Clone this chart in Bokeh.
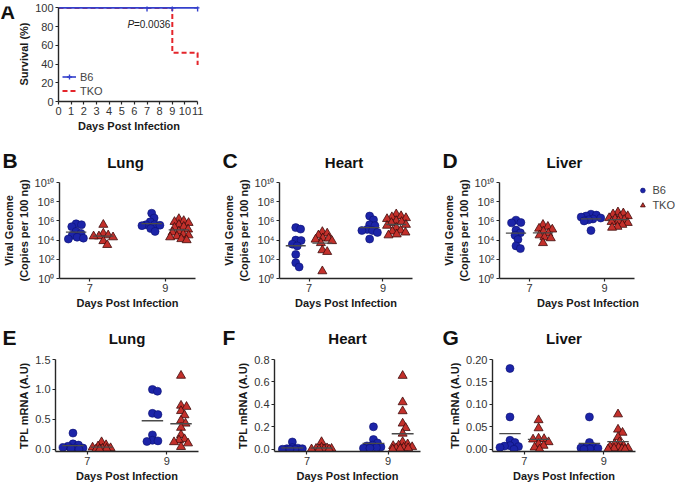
import numpy as np
from bokeh.plotting import figure
from bokeh.layouts import column, row
from bokeh.core.properties import value
from bokeh.models import (Range1d, FixedTicker, CustomJSTickFormatter, Label, Legend,
                          LegendItem, NumeralTickFormatter)
from bokeh.embed import file_html
from bokeh.resources import INLINE

FONT = "Liberation Sans"
BLUE = "#1c24a8"
BLUE_EDGE = "#0b1070"
RED = "#c3302b"
RED_EDGE = "#3d0b0b"
SURV_BLUE = "#3440cc"
SURV_RED = "#e4252b"
AXIS = "#262626"
MEAN = "#4a4a4a"

# ---------------- Panel A: survival ----------------
surv_ticks_x = list(range(0, 12))
surv_ticks_y = [0, 20, 40, 60, 80, 100]
b6_t = [0, 11]
b6_s = [100, 100]
b6_cens_t = [7, 9, 11]
b6_cens_s = [100, 100, 100]
tko_t = [0, 9, 11]
tko_s = [100, 52, 39]

# ---------------- Viral genome (copies per 100 ng) ----------------
day_ticks = [7, 9]
groups = ["B6", "TKO"]

lung_vg_b6_d7 = [5.0e5, 4.0e5, 2.5e5, 8.0e4, 5.0e4, 3.2e4, 2.0e4, 1.6e4, 1.3e4]
lung_vg_tko_d7 = [4.0e5, 5.0e4, 3.2e4, 2.5e4, 2.5e4, 2.0e4, 8.0e3, 3.2e3]
lung_vg_b6_d9 = [6.3e6, 2.0e6, 8.0e5, 4.0e5, 4.0e5, 3.5e5, 3.2e5, 1.6e5, 8.0e4]
lung_vg_tko_d9 = [1.6e6, 1.0e6, 8.0e5, 6.3e5, 4.0e5, 2.5e5, 2.0e5, 1.3e5, 8.0e4,
                  6.3e4, 4.0e4, 3.2e4, 2.5e4, 2.0e4, 1.3e4, 1.0e4]

heart_vg_b6_d7 = [2.0e5, 1.4e5, 1.0e4, 9.0e3, 3.8e3, 2.5e3, 3.2e2, 43, 16]
heart_vg_tko_d7 = [7.2e4, 5.0e4, 3.2e4, 1.6e4, 1.5e4, 1.15e4, 8.0e3, 5.0e3, 9.0e2, 6.0e2, 5.8]
heart_vg_b6_d9 = [3.2e6, 1.3e6, 4.0e5, 3.2e5, 1.3e5, 1.0e5, 1.0e5, 6.3e4, 1.3e4]
heart_vg_tko_d9 = [5.0e6, 3.2e6, 2.5e6, 2.0e6, 1.6e6, 1.0e6, 8.0e5, 6.3e5, 4.0e5,
                   3.2e5, 2.0e5, 1.0e5, 8.0e4, 6.3e4, 4.0e4, 3.2e4]

liver_vg_b6_d7 = [1.2e6, 6.8e5, 6.3e5, 1.1e5, 5.8e4, 3.2e4, 1.15e4, 2.5e3, 1.3e3]
liver_vg_tko_d7 = [4.0e5, 2.5e5, 1.6e5, 1.3e5, 8.0e4, 5.0e4, 3.2e4, 2.0e4, 1.6e4, 5.0e3]
liver_vg_b6_d9 = [5.0e6, 4.0e6, 3.2e6, 2.5e6, 2.0e6, 1.6e6, 1.3e6, 1.0e6, 1.0e5]
liver_vg_tko_d9 = [8.0e6, 6.3e6, 5.0e6, 3.2e6, 2.5e6, 2.0e6, 1.6e6, 1.3e6, 1.0e6,
                   8.0e5, 6.3e5, 4.0e5, 2.5e5, 2.0e5]

vg_ticks = [1e0, 1e2, 1e4, 1e6, 1e8, 1e10]

# ---------------- TPL mRNA (A.U) ----------------
lung_tpl_b6_d7 = [0.27, 0.09, 0.07, 0.05, 0.03, 0.02, 0.02, 0.01, 0.0]
lung_tpl_tko_d7 = [0.12, 0.07, 0.05, 0.03, 0.02, 0.01, 0.01, 0.0, 0.0]
lung_tpl_b6_d9 = [1.0, 0.97, 0.6, 0.58, 0.24, 0.15, 0.14, 0.13]
lung_tpl_tko_d9 = [1.23, 0.73, 0.71, 0.64, 0.57, 0.48, 0.43, 0.36, 0.24, 0.17,
                   0.15, 0.12, 0.10, 0.04]

heart_tpl_b6_d7 = [0.065, 0.015, 0.01, 0.005, 0.005, 0.0, 0.0, 0.0]
heart_tpl_tko_d7 = [0.065, 0.015, 0.01, 0.005, 0.005, 0.0, 0.0, 0.0, 0.0]
heart_tpl_b6_d9 = [0.2, 0.087, 0.056, 0.036, 0.03, 0.02, 0.015, 0.01, 0.01]
heart_tpl_tko_d9 = [0.655, 0.42, 0.34, 0.23, 0.19, 0.14, 0.065, 0.045, 0.035, 0.03,
                    0.02, 0.015, 0.01, 0.01, 0.005, 0.0]

liver_tpl_b6_d7 = [0.18, 0.072, 0.02, 0.015, 0.008, 0.007, 0.006, 0.004, 0.0]
liver_tpl_tko_d7 = [0.065, 0.047, 0.024, 0.023, 0.022, 0.016, 0.012, 0.008, 0.004, 0.0]
liver_tpl_b6_d9 = [0.072, 0.015, 0.006, 0.005, 0.003, 0.002, 0.001, 0.0]
liver_tpl_tko_d9 = [0.078, 0.044, 0.037, 0.027, 0.016, 0.012, 0.008, 0.006, 0.004,
                    0.003, 0.002, 0.001, 0.0, 0.0]

lung_tpl_ticks = [0.0, 0.5, 1.0, 1.5]
heart_tpl_ticks = [0.0, 0.2, 0.4, 0.6, 0.8]
liver_tpl_ticks = [0.0, 0.05, 0.10, 0.15, 0.20]

# ---------------- layout geometry (pixels) ----------------
TOTAL_W = 678
ROW_A = dict(h=142, T=6, B=41)
LETTER_A_W = 15
GEO_A = dict(w=207, L=40, R=23)
STRIP2_H = 30
STRIP3_H = 36
ROW2 = dict(h=140, T=10, B=34)
ROW3 = dict(h=136, T=11, B=32)
GEO = {
    "B": dict(x0=0, w=220, L=55, R=25),
    "C": dict(x0=220, w=220, L=55, R=28),
    "D": dict(x0=440, w=238, L=55, R=2, axis_w=138),
    "E": dict(x0=0, w=220, L=55, R=22),
    "F": dict(x0=220, w=220, L=54, R=20),
    "G": dict(x0=440, w=238, L=52, R=43),
}
X_RANGE = (6.2, 9.8)
GROUP_OFF = {"B6": -0.36, "TKO": 0.36}


def style_axes(p):
    p.outline_line_color = None
    p.xgrid.visible = False
    p.ygrid.visible = False
    p.background_fill_color = "white"
    p.border_fill_color = "white"
    for ax in (p.xaxis[0], p.yaxis[0]):
        ax.axis_line_color = AXIS
        ax.axis_line_width = 1.4
        ax.major_tick_line_color = AXIS
        ax.major_tick_line_width = 1.2
        ax.major_tick_out = 3
        ax.major_tick_in = 0
        ax.minor_tick_line_color = None
        ax.major_label_text_font = FONT
        ax.major_label_text_font_size = "11px"
        ax.major_label_text_color = "#333333"
        ax.major_label_standoff = 2
        ax.axis_label_text_font = FONT
        ax.axis_label_text_font_style = "bold"
        ax.axis_label_text_font_size = "11px"
        ax.axis_label_text_color = "#1a1a1a"
        ax.axis_label_standoff = 2


def swarm(ypx, diam=5.2, maxoff=10.0, step=0.5):
    n = len(ypx)
    order = sorted(range(n), key=lambda i: -ypx[i])
    cands = sorted(np.arange(-maxoff, maxoff + step / 2, step), key=lambda c: (abs(c), -c))
    placed = []
    res = [0.0] * n
    for i in order:
        y = ypx[i]
        chosen, best, bestd = None, 0.0, -1.0
        for c in cands:
            d = min([np.hypot(c - px, y - py) for px, py in placed], default=1e9)
            if d >= diam:
                chosen = c
                break
            if d > bestd:
                best, bestd = c, d
        if chosen is None:
            chosen = best
        placed.append((chosen, y))
        res[i] = chosen
    return res


def frame_geom(key, rowg):
    g = GEO[key]
    frame_w = g["w"] - g["L"] - g["R"]
    frame_h = rowg["h"] - rowg["T"] - rowg["B"]
    axis_w = g.get("axis_w", frame_w)
    return frame_w, frame_h, axis_w


def dot_panel(key, rowg, data, kind, yticks, ymax=None, fmt=None, ylabel=""):
    g = GEO[key]
    frame_w, frame_h, axis_w = frame_geom(key, rowg)
    x_end = X_RANGE[0] + (X_RANGE[1] - X_RANGE[0]) * frame_w / axis_w
    xppu = axis_w / (X_RANGE[1] - X_RANGE[0])
    common = dict(width=g["w"], height=rowg["h"], min_border_left=g["L"],
                  min_border_right=g["R"], min_border_top=rowg["T"],
                  min_border_bottom=rowg["B"], output_backend="svg",
                  toolbar_location=None, x_range=Range1d(X_RANGE[0], x_end))
    if kind == "log":
        p = figure(y_range=Range1d(1, 1e10), y_axis_type="log", **common)
        style_axes(p)
        p.yaxis.ticker = FixedTicker(ticks=yticks, minor_ticks=[])
        p.yaxis.formatter = CustomJSTickFormatter(code="""
            const sup = {'0':'\u2070','1':'\u00b9','2':'\u00b2','3':'\u00b3','4':'\u2074',
                         '5':'\u2075','6':'\u2076','7':'\u2077','8':'\u2078','9':'\u2079'};
            const e = Math.round(Math.log10(tick));
            return '10' + String(e).split('').map(c => sup[c]).join('');
        """)
        ppd = frame_h / 10.0
    else:
        lo = -0.025 * ymax
        p = figure(y_range=Range1d(lo, ymax), **common)
        style_axes(p)
        p.yaxis.ticker = FixedTicker(ticks=yticks, minor_ticks=[])
        p.yaxis.formatter = NumeralTickFormatter(format=fmt)
        ppu = frame_h / (ymax - lo)
    p.yaxis.axis_label = ylabel
    p.xaxis.ticker = FixedTicker(ticks=day_ticks, minor_ticks=[])
    p.xaxis.axis_label = "Days Post Infection"
    p.xaxis.bounds = X_RANGE

    rends = {}
    for day in day_ticks:
        for grp in groups:
            vals = np.array(data[(day, grp)], dtype=float)
            if kind == "log":
                ypx = list(np.log10(vals) * ppd)
                m = 10 ** np.mean(np.log10(vals))
            else:
                ypx = list(vals * ppu)
                m = vals.mean()
            offs = np.array(swarm(ypx)) / xppu
            cx = day + GROUP_OFF[grp]
            xs = cx + offs
            if grp == "B6":
                r = p.scatter(xs, vals, marker="circle", size=8, fill_color=BLUE,
                              line_color=BLUE_EDGE, line_width=0.6)
            else:
                r = p.scatter(xs, vals, marker="triangle", size=9, fill_color=RED,
                              line_color=RED_EDGE, line_width=0.8)
            rends[(day, grp)] = r
            p.segment(x0=[cx - 0.27], y0=[m], x1=[cx + 0.27], y1=[m],
                      line_color=MEAN, line_width=1.3)
    return p, rends


def strip(h, items):
    p = figure(width=TOTAL_W, height=h, x_range=Range1d(0, TOTAL_W), y_range=Range1d(0, h),
               x_axis_type=None, y_axis_type=None, min_border=0, min_border_left=0,
               min_border_right=0, min_border_top=0, min_border_bottom=0,
               output_backend="svg", toolbar_location=None)
    p.outline_line_color = None
    p.grid.visible = False
    for txt, x, y, size, align in items:
        p.text(x=[x], y=[y], text=[txt], text_font=value(FONT), text_font_style="bold",
               text_font_size=size, text_align=align, text_baseline="middle",
               text_color="#111111")
    return p


def title_items(keys, titles, rowg, h, y_letter, y_title):
    items = []
    for key, ttl in zip(keys, titles):
        g = GEO[key]
        frame_w, frame_h, axis_w = frame_geom(key, rowg)
        items.append((key, g["x0"] + 2, h - y_letter, "21px", "left"))
        items.append((ttl, g["x0"] + g["L"] + axis_w / 2, h - y_title, "15px", "center"))
    return items


# ---------------- Panel A ----------------
letterA = figure(width=LETTER_A_W, height=ROW_A["h"], x_range=Range1d(0, LETTER_A_W),
                 y_range=Range1d(0, ROW_A["h"]), x_axis_type=None, y_axis_type=None,
                 min_border=0, min_border_left=0, min_border_right=0, min_border_top=0,
                 min_border_bottom=0, output_backend="svg", toolbar_location=None)
letterA.outline_line_color = None
letterA.grid.visible = False
letterA.text(x=[0], y=[ROW_A["h"] - 8], text=["A"], text_font=value(FONT),
             text_font_style="bold", text_font_size="20px", text_align="left",
             text_baseline="middle", text_color="#111111")

pA = figure(width=GEO_A["w"], height=ROW_A["h"], min_border_left=GEO_A["L"],
            min_border_right=GEO_A["R"], min_border_top=ROW_A["T"],
            min_border_bottom=ROW_A["B"], output_backend="svg", toolbar_location=None,
            x_range=Range1d(0, 11.15), y_range=Range1d(0, 101.5))
style_axes(pA)
tko_r = pA.step(tko_t, tko_s, mode="after", line_color=SURV_RED, line_width=2,
                line_dash="5 3")
b6_r = pA.line(b6_t, b6_s, line_color=SURV_BLUE, line_width=1.6)
b6_c = pA.scatter(b6_cens_t, b6_cens_s, marker="cross", size=7, line_color=SURV_BLUE,
                  line_width=1.4)
pA.xaxis.ticker = FixedTicker(ticks=surv_ticks_x, minor_ticks=[])
pA.yaxis.ticker = FixedTicker(ticks=surv_ticks_y, minor_ticks=[])
pA.xaxis.bounds = (0, 11)
pA.yaxis.bounds = (0, 100)
pA.xaxis.axis_label = "Days Post Infection"
pA.yaxis.axis_label = "Survival (%)"
pA.add_layout(Label(x=5.45, y=82, text="P", text_font=FONT, text_font_style="italic",
                    text_font_size="10px", text_baseline="middle", text_color="#222222"))
pA.add_layout(Label(x=5.45, y=82, x_offset=6.5, text="=0.0036", text_font=FONT,
                    text_font_size="10px", text_baseline="middle", text_color="#222222"))
legA = Legend(items=[LegendItem(label="B6", renderers=[b6_r, b6_c]),
                     LegendItem(label="TKO", renderers=[tko_r])],
              location="bottom_left", margin=4, padding=0, spacing=1,
              glyph_width=14, glyph_height=13, label_height=13, label_standoff=4,
              label_text_font=FONT, label_text_font_size="11px",
              background_fill_alpha=0, border_line_alpha=0)
pA.add_layout(legA)

# ---------------- Panels B-D ----------------
vg_label = "Viral Genome\n(Copies per 100 ng)"
lung_vg = {(7, "B6"): lung_vg_b6_d7, (7, "TKO"): lung_vg_tko_d7,
           (9, "B6"): lung_vg_b6_d9, (9, "TKO"): lung_vg_tko_d9}
heart_vg = {(7, "B6"): heart_vg_b6_d7, (7, "TKO"): heart_vg_tko_d7,
            (9, "B6"): heart_vg_b6_d9, (9, "TKO"): heart_vg_tko_d9}
liver_vg = {(7, "B6"): liver_vg_b6_d7, (7, "TKO"): liver_vg_tko_d7,
            (9, "B6"): liver_vg_b6_d9, (9, "TKO"): liver_vg_tko_d9}
pB, _ = dot_panel("B", ROW2, lung_vg, "log", vg_ticks, ylabel=vg_label)
pC, _ = dot_panel("C", ROW2, heart_vg, "log", vg_ticks, ylabel=vg_label)
pD, rD = dot_panel("D", ROW2, liver_vg, "log", vg_ticks, ylabel=vg_label)
legD = Legend(items=[LegendItem(label="B6", renderers=[rD[(7, "B6")]]),
                     LegendItem(label="TKO", renderers=[rD[(7, "TKO")]])],
              location="top_right", margin=1, padding=0, spacing=1,
              glyph_width=12, glyph_height=14, label_height=14, label_standoff=4,
              label_text_font=FONT, label_text_font_size="11px",
              background_fill_alpha=0, border_line_alpha=0)
pD.add_layout(legD)

# ---------------- Panels E-G ----------------
tpl_label = "TPL mRNA (A.U)"
lung_tpl = {(7, "B6"): lung_tpl_b6_d7, (7, "TKO"): lung_tpl_tko_d7,
            (9, "B6"): lung_tpl_b6_d9, (9, "TKO"): lung_tpl_tko_d9}
heart_tpl = {(7, "B6"): heart_tpl_b6_d7, (7, "TKO"): heart_tpl_tko_d7,
             (9, "B6"): heart_tpl_b6_d9, (9, "TKO"): heart_tpl_tko_d9}
liver_tpl = {(7, "B6"): liver_tpl_b6_d7, (7, "TKO"): liver_tpl_tko_d7,
             (9, "B6"): liver_tpl_b6_d9, (9, "TKO"): liver_tpl_tko_d9}
pE, _ = dot_panel("E", ROW3, lung_tpl, "lin", lung_tpl_ticks, ymax=1.5, fmt="0.0",
                  ylabel=tpl_label)
pF, _ = dot_panel("F", ROW3, heart_tpl, "lin", heart_tpl_ticks, ymax=0.8, fmt="0.0",
                  ylabel=tpl_label)
pG, _ = dot_panel("G", ROW3, liver_tpl, "lin", liver_tpl_ticks, ymax=0.2, fmt="0.00",
                  ylabel=tpl_label)

# ---------------- title strips ----------------
s2 = strip(STRIP2_H, title_items(["B", "C", "D"], ["Lung", "Heart", "Liver"], ROW2,
                                 STRIP2_H, 18, 20))
s3 = strip(STRIP3_H, title_items(["E", "F", "G"], ["Lung", "Heart", "Liver"], ROW3,
                                 STRIP3_H, 25, 26))

layout = column(row(letterA, pA), s2, row(pB, pC, pD), s3, row(pE, pF, pG))
open("out.html", "w").write(file_html(layout, INLINE))
